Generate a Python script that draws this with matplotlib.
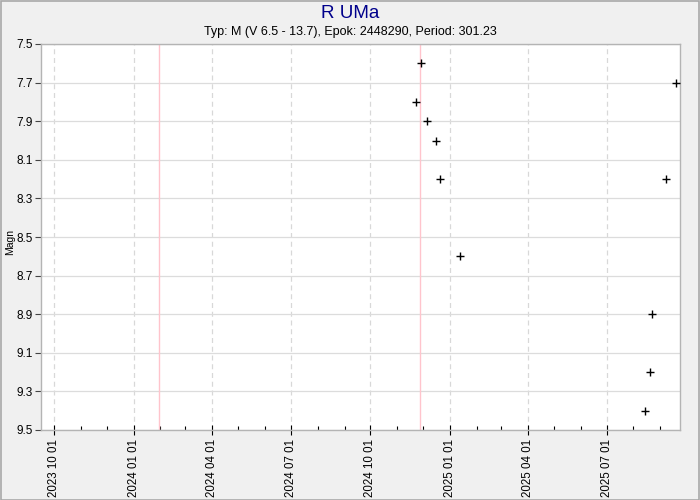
import matplotlib
matplotlib.use("Agg")
import matplotlib.pyplot as plt
import matplotlib.dates as mdates
from matplotlib.patches import Rectangle
import numpy as np
import datetime as dt

plt.rcParams['font.family'] = ['Liberation Sans', 'DejaVu Sans']

dates = ["2024-11-29", "2024-11-23", "2024-12-05", "2024-12-16", "2024-12-21",
         "2025-01-13", "2025-08-15", "2025-08-20", "2025-08-23", "2025-09-08", "2025-09-19"]
mags = [7.6, 7.8, 7.9, 8.0, 8.2, 8.6, 9.4, 9.2, 8.9, 8.2, 7.7]
marker_lines = ["2024-01-30", "2024-11-27"]
yticks = [7.5, 7.7, 7.9, 8.1, 8.3, 8.5, 8.7, 8.9, 9.1, 9.3, 9.5]
xlim = ["2023-09-16", "2025-09-24"]

def d(s):
    return dt.datetime.strptime(s, "%Y-%m-%d")

fig = plt.figure(figsize=(7, 5), dpi=100, facecolor="#f0f0f0")
fig.patches.append(Rectangle((0.001, 0.001), 0.998, 0.997, transform=fig.transFigure,
                             fill=False, edgecolor="#a8a8a8", linewidth=1.2))
ax = fig.add_axes([41/700, 70/500, 639/700, 386/500])
ax.set_facecolor("white")

for m in marker_lines:
    ax.axvline(d(m), color="#ffc4cc", linewidth=1, zorder=1)

ax.plot([d(s) for s in dates], mags, linestyle="none", marker="+", color="black",
        markersize=6, markeredgewidth=1, zorder=3)

ax.set_xlim(d(xlim[0]), d(xlim[1]))
ax.set_ylim(9.5, 7.5)
ax.set_yticks(yticks)
ax.set_yticklabels([f"{v:.1f}" for v in yticks], fontsize=8.5)

ax.xaxis.set_major_locator(mdates.MonthLocator(bymonth=[1, 4, 7, 10]))
ax.xaxis.set_minor_locator(mdates.MonthLocator())
ax.xaxis.set_major_formatter(mdates.DateFormatter("%Y %m %d"))
for lbl in ax.get_xticklabels():
    lbl.set_rotation(90)
    lbl.set_fontsize(8.3)

ax.grid(axis="x", which="major", color="#d8d8d8", linestyle=(0, (4, 3)), linewidth=0.9, zorder=0)
ax.grid(axis="y", which="major", color="#dcdcdc", linestyle="-", linewidth=0.9, zorder=0)
ax.set_axisbelow(True)

ax.tick_params(axis="x", which="major", direction="inout", length=7, width=0.8, color="black", pad=3)
ax.tick_params(axis="x", which="minor", direction="in", length=3, width=0.8, color="black")
ax.tick_params(axis="y", which="major", direction="out", length=4, width=0.8, color="#444444", pad=2)

for sp in ax.spines.values():
    sp.set_color("#b4b4b4")
    sp.set_linewidth(1)

fig.text(10/700, 1 - 242/500, "Magn", rotation=90, ha="center", va="center", fontsize=7.5)

fig.text(0.5, 0.99, "R UMa", ha="center", va="top", fontsize=13.5, color="#00008b")
fig.text(0.5, 0.949, "Typ: M (V 6.5 - 13.7), Epok: 2448290, Period: 301.23",
         ha="center", va="top", fontsize=9, color="black")

fig.savefig("out.png", dpi=100, facecolor=fig.get_facecolor())
